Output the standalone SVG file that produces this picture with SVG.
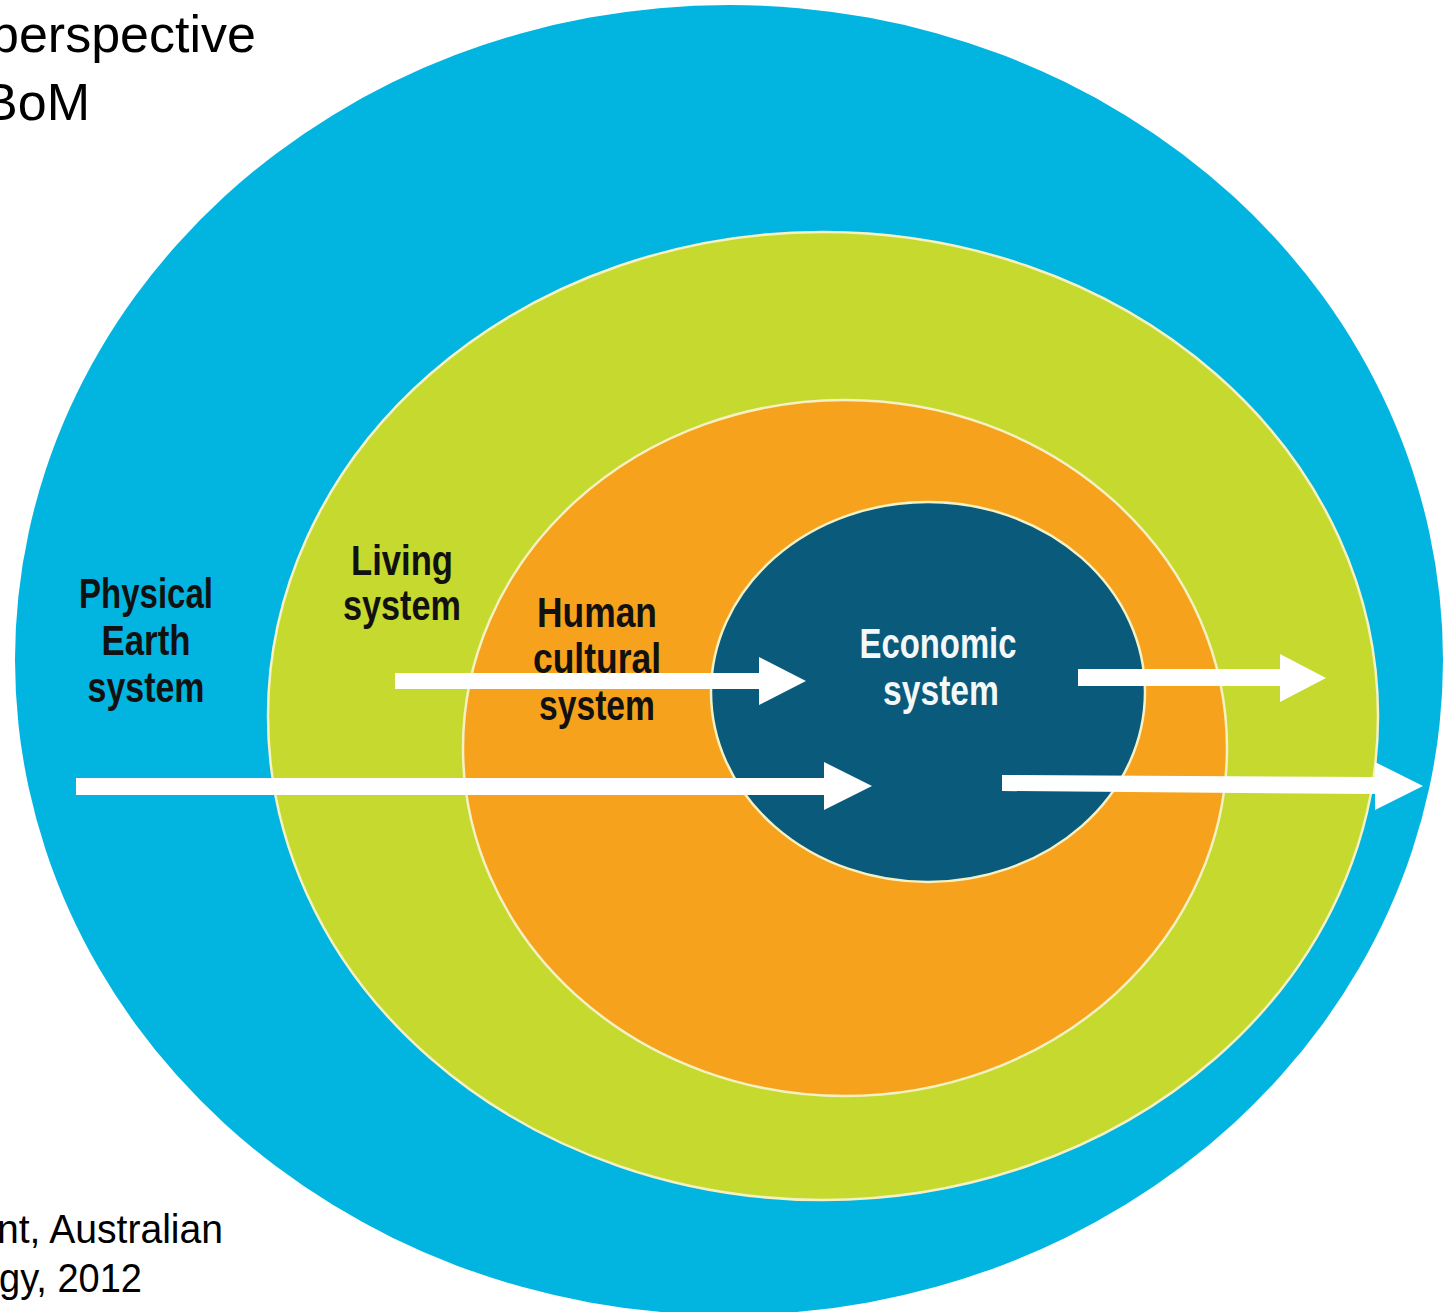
<svg xmlns="http://www.w3.org/2000/svg" width="1443" height="1312" viewBox="0 0 1443 1312">
<style>
.band{stroke:#f4f1c4;stroke-width:2.5}
.lbl{font-family:"Liberation Sans",Arial,sans-serif;font-weight:bold;font-size:43px;fill:#111;text-anchor:middle}
.lblw{font-family:"Liberation Sans",Arial,sans-serif;font-weight:bold;font-size:43px;fill:#f4f8f8;text-anchor:middle}
.cap{font-family:"Liberation Sans",Arial,sans-serif;fill:#000}
.arr{fill:#ffffff}
</style>
<rect width="1443" height="1312" fill="#ffffff"/>
<g id="caption-top">
<text class="cap" x="-10" y="52" font-size="52" textLength="266" lengthAdjust="spacingAndGlyphs">perspective</text>
<text class="cap" x="-17" y="120" font-size="52" textLength="107" lengthAdjust="spacingAndGlyphs">BoM</text>
</g>
<g id="physical-earth-system">
<ellipse cx="729" cy="660" rx="714" ry="655" fill="#02b5e0"/>
<text class="lbl" x="146" y="608" textLength="134" lengthAdjust="spacingAndGlyphs">Physical</text>
<text class="lbl" x="146" y="655" textLength="89" lengthAdjust="spacingAndGlyphs">Earth</text>
<text class="lbl" x="146" y="702" textLength="117" lengthAdjust="spacingAndGlyphs">system</text>
</g>
<g id="living-system">
<ellipse class="band" cx="823" cy="716" rx="555" ry="484" fill="#c5d92e"/>
<text class="lbl" x="402" y="575" textLength="102" lengthAdjust="spacingAndGlyphs">Living</text>
<text class="lbl" x="402" y="620" textLength="118" lengthAdjust="spacingAndGlyphs">system</text>
</g>
<g id="human-cultural-system">
<ellipse class="band" cx="845" cy="748" rx="382" ry="348" fill="#f7a21c"/>
<text class="lbl" x="597" y="627" textLength="120" lengthAdjust="spacingAndGlyphs">Human</text>
<text class="lbl" x="597" y="673" textLength="128" lengthAdjust="spacingAndGlyphs">cultural</text>
<text class="lbl" x="597" y="720" textLength="116" lengthAdjust="spacingAndGlyphs">system</text>
</g>
<g id="economic-system">
<ellipse class="band" cx="928" cy="692" rx="217" ry="190" fill="#0a5a7c"/>
<text class="lblw" x="938" y="658" textLength="157" lengthAdjust="spacingAndGlyphs">Economic</text>
<text class="lblw" x="941" y="705" textLength="116" lengthAdjust="spacingAndGlyphs">system</text>
</g>
<g id="connectors">
<polygon class="arr" points="395,673 759,673 759,657 806,681 759,705 759,689 395,689"/>
<polygon class="arr" points="76,778 824,778 824,762 872,786 824,810 824,795 76,795"/>
<polygon class="arr" points="1078,669 1280,669 1280,654 1326,678 1280,702 1280,686 1078,686"/>
<polygon class="arr" points="1002,775 1375,777 1375,762 1423,786 1375,810 1375,794 1002,791"/>
</g>
<g id="caption-bottom">
<text class="cap" x="-3" y="1243" font-size="40" textLength="226" lengthAdjust="spacingAndGlyphs">nt, Australian</text>
<text class="cap" x="-1" y="1292" font-size="40" textLength="143" lengthAdjust="spacingAndGlyphs">gy, 2012</text>
</g>
</svg>
